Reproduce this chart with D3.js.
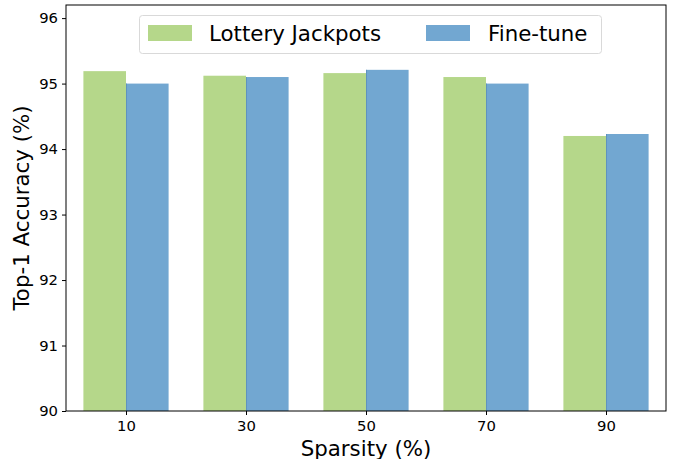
<!DOCTYPE html>
<html><head><meta charset="utf-8">
<script src="https://cdn.jsdelivr.net/npm/d3@7"></script>
<style>body{margin:0;background:#fff;} text{font-family:"DejaVu Sans",sans-serif;}</style>
</head><body>
<svg id="chart" width="678" height="459"></svg>
<script>
const categories = ["10","30","50","70","90"];
const seriesNames = ["Lottery Jackpots","Fine-tune"];
const jackpots = [95.19, 95.12, 95.16, 95.10, 94.20];
const finetune = [95.00, 95.10, 95.21, 95.00, 94.23];
const yTicks = [90,91,92,93,94,95,96];
const colors = ["#b5d78a","#72a7d1"];

const svg = d3.select("#chart");
const L = 66, R = 666, T = 5, B = 411;
const x = d3.scaleLinear().domain([-0.5, 4.5]).range([L, R]);
const y = d3.scaleLinear().domain([90, 96.2]).range([B, T]);
const w = 0.355;
const series = [jackpots, finetune];

series.forEach((vals, si) => {
  svg.append("g").selectAll("rect").data(vals).join("rect")
    .attr("x", (d,i) => x(i + (si === 0 ? -w : 0)))
    .attr("width", x(w) - x(0))
    .attr("y", d => y(d))
    .attr("height", d => y(90) - y(d))
    .attr("fill", colors[si]);
});
// thin edge on blue bars
svg.append("g").selectAll("line").data(finetune).join("line")
  .attr("x1",(d,i)=>x(i)+0.5).attr("x2",(d,i)=>x(i)+0.5)
  .attr("y1",d=>y(d)).attr("y2",y(90))
  .attr("stroke","#5f93bd").attr("stroke-width",1);

const xAxis = d3.axisBottom(x).tickValues(d3.range(categories.length))
  .tickFormat(i => categories[i]).tickSize(4).tickPadding(3);
const yAxis = d3.axisLeft(y).tickValues(yTicks).tickFormat(d3.format("d")).tickSize(4).tickPadding(4);

const gx = svg.append("g").attr("transform", `translate(0,${B})`).call(xAxis);
const gy = svg.append("g").attr("transform", `translate(${L},0)`).call(yAxis);
[gx, gy].forEach(g => {
  g.select(".domain").remove();
  g.selectAll("line").attr("stroke","#000");
  g.selectAll("text").attr("font-size", 14.8).attr("fill","#000").attr("font-family","DejaVu Sans");
});
gx.selectAll("text").attr("dy","0.9em");

svg.append("rect").attr("x", L).attr("y", T).attr("width", R-L).attr("height", B-T)
  .attr("fill","none").attr("stroke","#000").attr("stroke-width",1);

svg.append("text").attr("x", (L+R)/2).attr("y", 455.5).attr("text-anchor","middle")
  .attr("font-size", 21.33).text("Sparsity (%)");
svg.append("text").attr("transform", `translate(29,${(T+B)/2}) rotate(-90)`).attr("text-anchor","middle")
  .attr("font-size", 21.33).text("Top-1 Accuracy (%)");

// legend
const lg = svg.append("g");
lg.append("rect").attr("x",139.5).attr("y",15.5).attr("width",462).attr("height",38).attr("rx",3)
  .attr("fill","#fff").attr("fill-opacity",0.8).attr("stroke","#d9d9d9");
const items = [{x:148, tx:209},{x:426, tx:488}];
seriesNames.forEach((n,i)=>{
  lg.append("rect").attr("x",items[i].x).attr("y",25).attr("width",44).attr("height",16).attr("fill",colors[i]);
  lg.append("text").attr("x",items[i].tx).attr("y",41).attr("font-size",21.33).text(n);
});
</script>
</body></html>
